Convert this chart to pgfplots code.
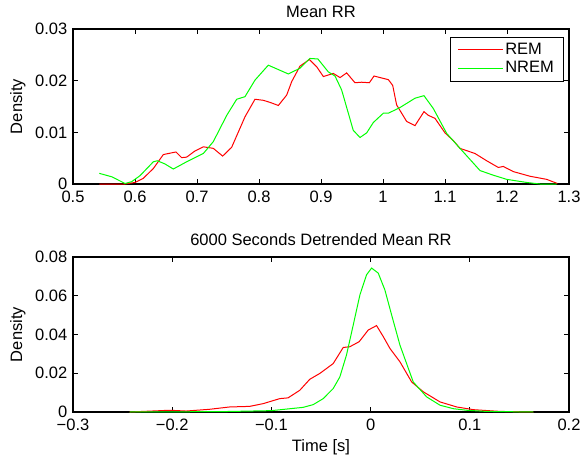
\documentclass[border=0pt]{standalone}
\usepackage{pgfplots}
\pgfplotsset{compat=1.18}
\usepackage{fontspec}
\setmainfont{Liberation Sans}
\definecolor{mred}{RGB}{255,0,0}
\definecolor{mgreen}{RGB}{0,255,0}
\pgfplotsset{
  mystyle/.style={
    scale only axis, width=496pt, height=155pt,
    anchor=south west,
    tick align=inside, major tick length=5pt,
    axis line style={line width=1.1pt},
    every tick/.style={black, line width=0.8pt},
    title style={at={(0.5,1)}, anchor=base, yshift=6pt},
    ylabel={Density},
    ylabel style={at={(axis description cs:-0.111,0.5)}, anchor=center, rotate=0},
    scaled ticks=false,
    /pgf/number format/assume math mode=true,
    xticklabel style={yshift=-1pt},
  }
}
\begin{document}
\fontsize{16.5}{19}\selectfont
\begin{tikzpicture}
\begin{axis}[mystyle, at={(0pt,228pt)},
  title={Mean RR},
  xmin=0.5, xmax=1.3, ymin=0, ymax=0.03,
  xtick={0.5,0.6,0.7,0.8,0.9,1,1.1,1.2,1.3},
  xticklabels={0.5,0.6,0.7,0.8,0.9,1,1.1,1.2,1.3},
  ytick={0,0.01,0.02,0.03},
  yticklabels={0,0.01,0.02,0.03},
  legend style={at={(rel axis cs:0.988,0.948)}, anchor=north east, inner xsep=7pt, inner ysep=3.5pt, row sep=1pt},
  legend cell align=left,
  legend image code/.code={\draw[#1, draw=., line width=1pt] (0pt,0pt) -- (45pt,0pt);},
]
\addplot[color=mred, line width=1pt] coordinates {(0.5425,0)(0.584,0)(0.600,0.0003)(0.6134,0.0011)(0.6296,0.0030)(0.6457,0.0057)(0.6661,0.0062)(0.6753,0.0051)(0.6833,0.0052)(0.6968,0.0064)(0.7102,0.0072)(0.7263,0.0069)(0.7414,0.0054)(0.7559,0.0071)(0.7774,0.0130)(0.7935,0.0164)(0.807,0.0162)(0.8177,0.0158)(0.8312,0.0152)(0.8446,0.0172)(0.8527,0.0198)(0.866,0.0228)(0.8812,0.0241)(0.893,0.0227)(0.9038,0.0208)(0.9199,0.0214)(0.9307,0.0206)(0.9414,0.0215)(0.9548,0.0196)(0.9656,0.0197)(0.978,0.0196)(0.9855,0.0209)(0.9952,0.0206)(1.0086,0.0202)(1.0156,0.0191)(1.022,0.0153)(1.0382,0.0121)(1.0516,0.0113)(1.0661,0.0140)(1.073,0.0133)(1.0839,0.0127)(1.1,0.0099)(1.1134,0.0084)(1.1242,0.0069)(1.1484,0.0059)(1.1672,0.0045)(1.186,0.0032)(1.194,0.0034)(1.2102,0.0024)(1.2371,0.0015)(1.264,0.0009)(1.2812,0.0001)};
\addlegendentry{REM}
\addplot[color=mgreen, line width=1pt] coordinates {(0.5425,0.00206)(0.5624,0.0014)(0.584,0.0001)(0.5946,0.00045)(0.608,0.0016)(0.6296,0.0043)(0.636,0.0045)(0.648,0.0039)(0.6618,0.0029)(0.6833,0.0043)(0.7102,0.0059)(0.7263,0.0082)(0.748,0.0133)(0.764,0.0164)(0.7774,0.0169)(0.7935,0.0201)(0.815,0.0230)(0.8473,0.0213)(0.866,0.0224)(0.882,0.0243)(0.895,0.0242)(0.9118,0.0217)(0.9226,0.0209)(0.9333,0.0182)(0.952,0.0104)(0.9629,0.0090)(0.9737,0.0099)(0.9844,0.0119)(1.0005,0.0137)(1.0086,0.0137)(1.0274,0.0148)(1.0516,0.0166)(1.0661,0.0171)(1.0812,0.0146)(1.1027,0.0098)(1.1242,0.0069)(1.1565,0.0026)(1.178,0.0017)(1.1995,0.0009)(1.2317,0.0003)(1.253,0)(1.28,0)};
\addlegendentry{NREM}
\end{axis}
\begin{axis}[mystyle, at={(0pt,0pt)},
  title={6000 Seconds Detrended Mean RR},
  xlabel={Time [s]},
  xlabel style={at={(axis description cs:0.5,-0.258)}, anchor=base},
  xmin=-0.3, xmax=0.2, ymin=0, ymax=0.08,
  xtick={-0.3,-0.2,-0.1,0,0.1,0.2},
  xticklabels={−0.3,−0.2,−0.1,0,0.1,0.2},
  ytick={0,0.02,0.04,0.06,0.08},
  yticklabels={0,0.02,0.04,0.06,0.08},
]
\addplot[color=mred, line width=1pt] coordinates {(-0.243,0)(-0.2027,0.0009)(-0.186,0.0005)(-0.1623,0.0014)(-0.1421,0.0026)(-0.122,0.0029)(-0.1084,0.0043)(-0.0916,0.0069)(-0.0832,0.0073)(-0.0714,0.0112)(-0.0613,0.0169)(-0.0512,0.0199)(-0.0377,0.0250)(-0.0276,0.0333)(-0.0209,0.0337)(-0.0115,0.0363)(-0.0024,0.0423)(0.006,0.0446)(0.0128,0.0389)(0.0195,0.0328)(0.0296,0.0259)(0.0414,0.0155)(0.0532,0.0104)(0.07,0.0052)(0.0868,0.0026)(0.1037,0.0012)(0.1306,0.0003)(0.164,0)};
\addplot[color=mgreen, line width=1pt] coordinates {(-0.243,0)(-0.15,0.0002)(-0.1,0.0007)(-0.068,0.0024)(-0.0579,0.0038)(-0.0478,0.0069)(-0.0377,0.0121)(-0.031,0.0181)(-0.0243,0.0294)(-0.0175,0.0449)(-0.0108,0.0604)(-0.0041,0.0708)(0.001,0.0743)(0.0077,0.0717)(0.0144,0.0630)(0.0212,0.0501)(0.0296,0.0345)(0.043,0.0155)(0.0565,0.0078)(0.07,0.0035)(0.0835,0.0017)(0.0969,0.0009)(0.117,0.0003)(0.164,0)};
\end{axis}
\pgfresetboundingbox
\path[use as bounding box] (-73pt,-47pt) rectangle (509pt,412pt);
\end{tikzpicture}
\end{document}
